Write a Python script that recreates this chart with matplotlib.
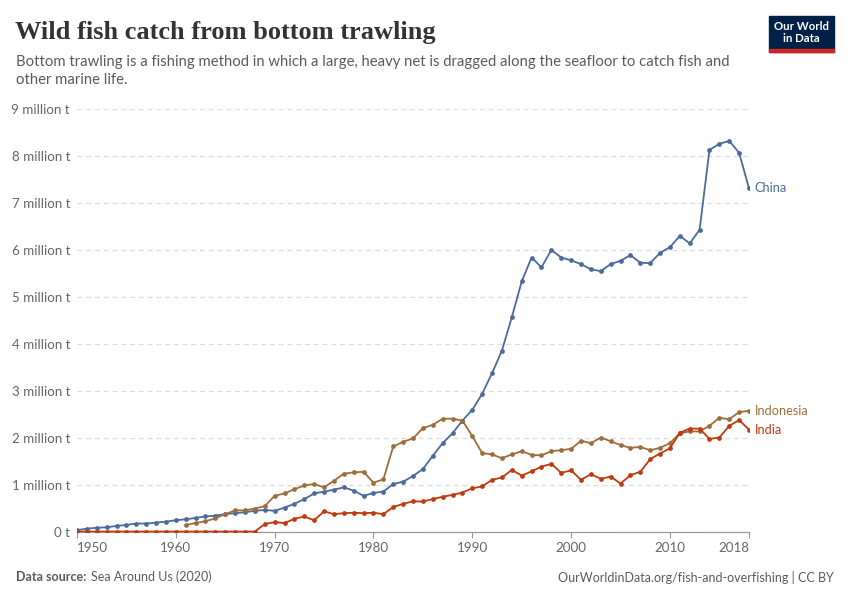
import numpy as np
import matplotlib.pyplot as plt
from matplotlib.patches import Rectangle

# ------------------------------------------------------------
# Data (million tonnes)
# ------------------------------------------------------------

years_china = list(range(1950, 2019))
china = [
    0.04, 0.07, 0.09, 0.10, 0.13, 0.15, 0.18, 0.18, 0.20, 0.22,
    0.25, 0.27, 0.30, 0.33, 0.35, 0.38, 0.40, 0.42, 0.45, 0.47,
    0.45, 0.52, 0.60, 0.70, 0.82, 0.86, 0.90, 0.95, 0.88, 0.77,
    0.83, 0.86, 1.02, 1.07, 1.19, 1.34, 1.62, 1.89, 2.10, 2.37,
    2.60, 2.94, 3.38, 3.86, 4.57, 5.33, 5.84, 5.63, 6.00, 5.84,
    5.78, 5.70, 5.59, 5.55, 5.70, 5.77, 5.89, 5.73, 5.72, 5.94,
    6.06, 6.30, 6.14, 6.43, 8.13, 8.26, 8.32, 8.07, 7.31,
]

years_indonesia = list(range(1961, 2019))
indonesia = [
    0.15, 0.19, 0.23, 0.29, 0.38, 0.46, 0.46, 0.50, 0.55,
    0.77, 0.82, 0.91, 0.99, 1.02, 0.95, 1.09, 1.24, 1.27, 1.28,
    1.05, 1.12, 1.82, 1.92, 1.99, 2.21, 2.28, 2.41, 2.41, 2.37,
    2.04, 1.68, 1.65, 1.57, 1.65, 1.72, 1.64, 1.63, 1.72, 1.74,
    1.77, 1.94, 1.89, 2.01, 1.93, 1.85, 1.79, 1.81, 1.74, 1.79,
    1.89, 2.10, 2.14, 2.14, 2.26, 2.43, 2.40, 2.55, 2.58,
]

years_india = list(range(1950, 2019))
india = [
    0.01, 0.01, 0.01, 0.01, 0.01, 0.01, 0.01, 0.01, 0.01, 0.01,
    0.01, 0.01, 0.01, 0.01, 0.01, 0.01, 0.01, 0.01, 0.01, 0.17,
    0.21, 0.19, 0.28, 0.33, 0.25, 0.44, 0.38, 0.40, 0.41, 0.40,
    0.41, 0.38, 0.53, 0.60, 0.65, 0.65, 0.70, 0.75, 0.79, 0.84,
    0.93, 0.97, 1.11, 1.16, 1.32, 1.20, 1.29, 1.39, 1.45, 1.26,
    1.31, 1.11, 1.23, 1.13, 1.18, 1.03, 1.21, 1.28, 1.55, 1.67,
    1.78, 2.11, 2.20, 2.20, 1.98, 2.01, 2.26, 2.38, 2.18,
]

y_ticks = [0, 1, 2, 3, 4, 5, 6, 7, 8, 9]
y_tick_labels = ["0 t"] + [f"{v} million t" for v in y_ticks[1:]]
x_ticks = [1950, 1960, 1970, 1980, 1990, 2000, 2010, 2018]

series = [
    ("China", years_china, china, "#4c6a9c"),
    ("Indonesia", years_indonesia, indonesia, "#9d6e3c"),
    ("India", years_india, india, "#bf3a0f"),
]

# ------------------------------------------------------------
# Figure
# ------------------------------------------------------------

plt.rcParams["font.family"] = ["Lato", "DejaVu Sans"]

W, H = 850, 600
fig = plt.figure(figsize=(W / 100, H / 100), dpi=100)
ax = fig.add_axes([77 / W, 68 / H, (749 - 77) / W, (532 - 109) / H])

for name, xs, ys, color in series:
    ax.plot(xs, ys, color=color, lw=1.3, marker="o", ms=2.4,
            solid_joinstyle="round", zorder=3)

ax.set_xlim(1950, 2018)
ax.set_ylim(0, 9)

ax.set_yticks(y_ticks)
ax.set_yticklabels(y_tick_labels)
ax.set_xticks(x_ticks)
ax.set_xticklabels([str(x) for x in x_ticks])

ax.grid(axis="y", color="#dddddd", linestyle=(0, (4, 3)), lw=0.9)
ax.grid(axis="x", visible=False)
ax.set_axisbelow(True)

for side in ["top", "right", "left"]:
    ax.spines[side].set_visible(False)
ax.spines["bottom"].set_color("#999999")
ax.spines["bottom"].set_linewidth(0.9)

ax.tick_params(axis="y", length=0, pad=5, labelsize=9.6, labelcolor="#666666")
ax.tick_params(axis="x", length=4, width=0.8, color="#999999", pad=3,
               labelsize=9.6, labelcolor="#666666")

xt = ax.get_xticklabels()
xt[0].set_horizontalalignment("left")
xt[-1].set_horizontalalignment("right")

# series labels at line ends
label_y = {"China": 7.31, "Indonesia": 2.58, "India": 2.17}
for name, xs, ys, color in series:
    ax.annotate(name, xy=(xs[-1], label_y[name]), xytext=(4, 0),
                textcoords="offset points", va="center", ha="left",
                fontsize=9.2, color=color, annotation_clip=False)

# ------------------------------------------------------------
# Header and footer
# ------------------------------------------------------------

fig.text(15 / W, 1 - 32 / H, "Wild fish catch from bottom trawling",
         fontsize=19, fontweight="bold", color="#333333", va="center",
         family=["Liberation Serif", "DejaVu Serif"])
fig.text(16 / W, 1 - 62 / H,
         "Bottom trawling is a fishing method in which a large, heavy net is "
         "dragged along the seafloor to catch fish and",
         fontsize=10.7, color="#5b5b5b", va="center")
fig.text(16 / W, 1 - 80 / H, "other marine life.",
         fontsize=10.7, color="#5b5b5b", va="center")

# logo
fig.patches.append(Rectangle((769 / W, 1 - 52 / H), 65 / W, 36 / H,
                             transform=fig.transFigure, color="#002147",
                             zorder=1))
fig.patches.append(Rectangle((769 / W, 1 - 52 / H), 65 / W, 3 / H,
                             transform=fig.transFigure, color="#ce261e",
                             zorder=2))
fig.text(801.5 / W, 1 - 26 / H, "Our World", fontsize=8.2, color="white",
         ha="center", va="center", fontweight="bold", zorder=3)
fig.text(801.5 / W, 1 - 39 / H, "in Data", fontsize=8.2, color="white",
         ha="center", va="center", fontweight="bold", zorder=3)

fig.text(16 / W, 1 - 577 / H, "Data source:", fontsize=9, color="#5b5b5b",
         va="center", fontweight="bold")
fig.text(91 / W, 1 - 577 / H, "Sea Around Us (2020)", fontsize=9,
         color="#5b5b5b", va="center")
fig.text(834 / W, 1 - 577 / H,
         "OurWorldinData.org/fish-and-overfishing | CC BY", fontsize=9,
         color="#5b5b5b", va="center", ha="right")

fig.savefig("out.png", dpi=100)
